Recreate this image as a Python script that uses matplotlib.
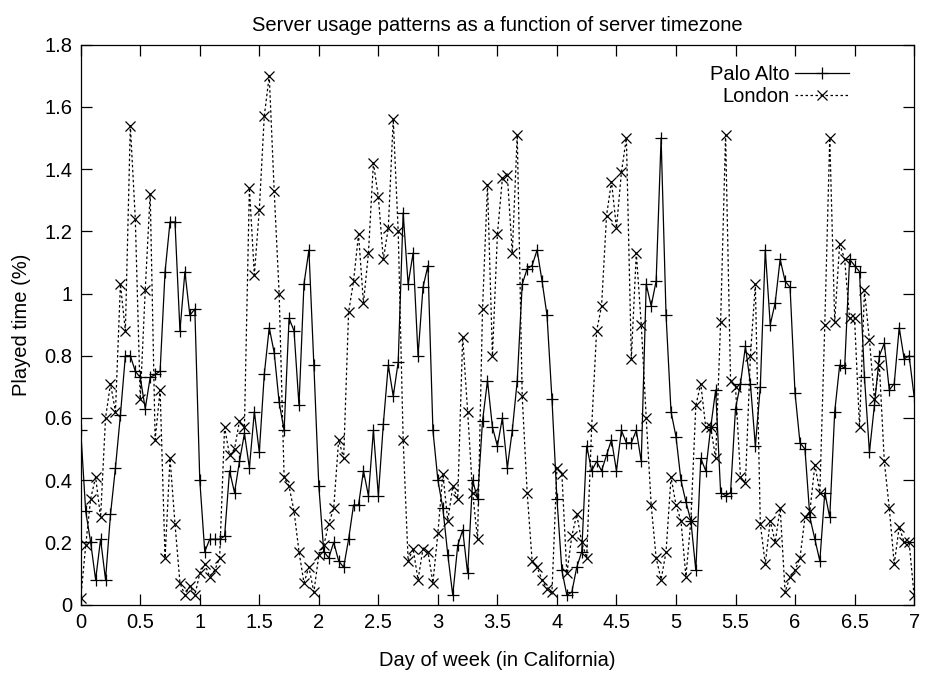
import numpy as np
import matplotlib
matplotlib.use("Agg")
import matplotlib.pyplot as plt
import matplotlib.ticker as mticker

plt.rcParams["font.family"] = ["Liberation Sans", "DejaVu Sans"]

# hourly samples, one week (day 0 .. day 7)
palo_alto = [
    0.56, 0.30, 0.20, 0.08, 0.21, 0.08, 0.29, 0.44, 0.61, 0.80, 0.80, 0.75,
    0.73, 0.63, 0.73, 0.74, 0.75, 1.07, 1.23, 1.23, 0.88, 1.07, 0.93, 0.95,
    0.40, 0.17, 0.21, 0.21, 0.21, 0.22, 0.43, 0.36, 0.46, 0.55, 0.44, 0.62,
    0.49, 0.74, 0.89, 0.81, 0.65, 0.56, 0.92, 0.88, 0.64, 1.03, 1.14, 0.77,
    0.38, 0.17, 0.15, 0.20, 0.14, 0.12, 0.21, 0.32, 0.32, 0.43, 0.35, 0.56,
    0.35, 0.58, 0.77, 0.67, 0.78, 1.26, 1.03, 1.13, 0.80, 1.02, 1.09, 0.56,
    0.40, 0.31, 0.16, 0.03, 0.19, 0.24, 0.10, 0.40, 0.34, 0.59, 0.72, 0.57,
    0.51, 0.60, 0.44, 0.56, 0.72, 1.03, 1.08, 1.09, 1.14, 1.04, 0.93, 0.66,
    0.34, 0.11, 0.03, 0.04, 0.12, 0.17, 0.51, 0.43, 0.46, 0.43, 0.48, 0.53,
    0.43, 0.56, 0.52, 0.52, 0.56, 0.46, 1.03, 0.96, 1.04, 1.50, 0.93, 0.62,
    0.54, 0.40, 0.33, 0.27, 0.11, 0.47, 0.43, 0.57, 0.69, 0.36, 0.35, 0.36,
    0.63, 0.71, 0.83, 0.71, 0.51, 0.70, 1.14, 0.90, 0.97, 1.11, 1.04, 1.02,
    0.68, 0.52, 0.50, 0.28, 0.21, 0.14, 0.36, 0.28, 0.62, 0.77, 0.76, 1.11,
    1.09, 1.07, 0.73, 0.49, 0.64, 0.80, 0.84, 0.69, 0.71, 0.89, 0.79, 0.80,
    0.67,
]

london = [
    0.02, 0.19, 0.34, 0.41, 0.28, 0.60, 0.71, 0.62, 1.03, 0.88, 1.54, 1.24,
    0.66, 1.01, 1.32, 0.53, 0.69, 0.15, 0.47, 0.26, 0.07, 0.03, 0.06, 0.03,
    0.10, 0.13, 0.09, 0.11, 0.15, 0.57, 0.48, 0.50, 0.59, 0.57, 1.34, 1.06,
    1.27, 1.57, 1.70, 1.33, 1.00, 0.41, 0.38, 0.30, 0.17, 0.07, 0.12, 0.04,
    0.16, 0.19, 0.26, 0.31, 0.53, 0.47, 0.94, 1.04, 1.19, 0.97, 1.13, 1.42,
    1.31, 1.11, 1.21, 1.56, 1.20, 0.53, 0.14, 0.18, 0.08, 0.18, 0.17, 0.07,
    0.23, 0.42, 0.27, 0.38, 0.34, 0.86, 0.62, 0.36, 0.21, 0.95, 1.35, 0.80,
    1.19, 1.37, 1.38, 1.13, 1.51, 0.67, 0.36, 0.14, 0.12, 0.08, 0.05, 0.04,
    0.44, 0.42, 0.10, 0.22, 0.29, 0.20, 0.15, 0.57, 0.88, 0.96, 1.25, 1.36,
    1.21, 1.39, 1.50, 0.79, 1.13, 0.90, 0.60, 0.32, 0.15, 0.08, 0.17, 0.41,
    0.32, 0.27, 0.09, 0.27, 0.64, 0.71, 0.57, 0.57, 0.47, 0.91, 1.51, 0.72,
    0.70, 0.41, 0.39, 0.80, 1.03, 0.26, 0.13, 0.27, 0.20, 0.31, 0.04, 0.09,
    0.11, 0.15, 0.28, 0.30, 0.45, 0.36, 0.90, 1.50, 0.91, 1.16, 1.11, 0.92,
    0.92, 0.57, 1.01, 0.85, 0.66, 0.77, 0.46, 0.31, 0.13, 0.25, 0.20, 0.20,
    0.03,
]

day = np.arange(len(palo_alto)) / 24.0

fig = plt.figure(figsize=(9.28, 6.77), dpi=100)
ax = fig.add_axes([0.087, 0.107, 0.898, 0.827])

ax.plot(day, palo_alto, color="black", lw=0.9, marker="+", ms=9, mew=0.9,
        label="Palo Alto")
ax.plot(day, london, color="black", lw=0.9, linestyle=(0, (2, 2)),
        marker="x", ms=7, mew=0.9, label="London")

ax.set_xlim(0, 7)
ax.set_ylim(0, 1.8)
ax.xaxis.set_major_locator(mticker.MultipleLocator(0.5))
ax.yaxis.set_major_locator(mticker.MultipleLocator(0.2))
fmt = mticker.FuncFormatter(lambda v, p: "%g" % round(v, 2))
ax.xaxis.set_major_formatter(fmt)
ax.yaxis.set_major_formatter(fmt)
ax.tick_params(direction="in", length=8, width=0.9, top=True, right=True,
               labelsize=14.5, pad=6)
for s in ax.spines.values():
    s.set_linewidth(0.9)

ax.set_xlabel("Day of week (in California)", fontsize=14.5, labelpad=14)
ax.set_ylabel("Played time (%)", fontsize=14.5, labelpad=10)
ax.set_title("Server usage patterns as a function of server timezone",
             fontsize=14.5, pad=10)

# key: right-justified text followed by the line sample
ax.legend(loc="upper right", markerfirst=False, frameon=False, fontsize=14.5,
          handlelength=2.7, handletextpad=0.25, labelspacing=0.15,
          borderpad=0.0, borderaxespad=0.0, bbox_to_anchor=(0.922, 0.963))

fig.savefig("out.png", dpi=100)
